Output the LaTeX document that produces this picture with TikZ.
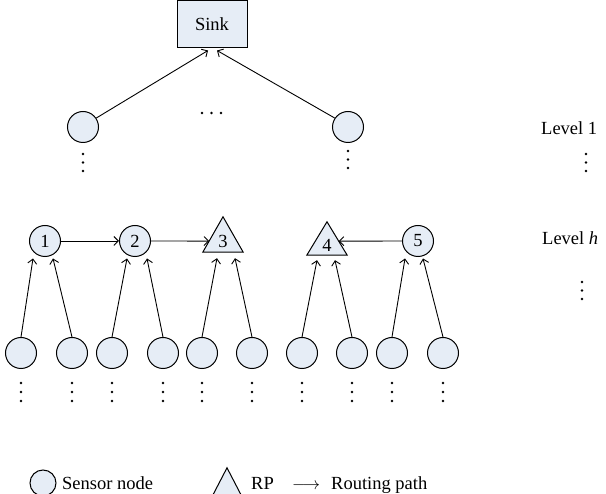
\documentclass[tikz,border=0pt]{standalone}
\usepackage{fontspec}
\setmainfont{Liberation Serif}
\usetikzlibrary{arrows.meta,calc}
\definecolor{nodefill}{RGB}{230,237,246}
\newcommand\vdotsAt[3]{\fill (#1,#2) circle (1.3pt) (#1,{#2+#3}) circle (1.3pt) (#1,{#2+2*#3}) circle (1.3pt);}
\begin{document}
\begin{tikzpicture}[x=1pt,y=-1pt,
  sensor/.style={circle,draw,fill=nodefill,line width=1pt,minimum size=31pt,inner sep=0pt,font=\fontsize{18.5}{18.5}\selectfont},
  tribox/.style={minimum width=40pt,inner sep=0pt},
  trishape/.style={draw,fill=nodefill,line width=1pt,line join=miter},
  route/.style={-{Straight Barb[length=4.5pt,width=9pt]},line width=0.9pt},
  lbl/.style={font=\fontsize{18.5}{18.5}\selectfont,inner sep=0pt}]
\useasboundingbox (0,0) rectangle (606,494);

% sink
\node[draw,fill=nodefill,line width=1pt,minimum width=70pt,minimum height=47pt,lbl] (sink) at (212,24.5) {Sink};

% level 1
\node[sensor] (a1) at (83,127) {};
\node[sensor] (a2) at (348,127) {};
\draw[route] (a1.34) -- ($(sink.south)+(-4,2)$);
\draw[route] (a2.146) -- ($(sink.south)+(5,2)$);
\fill (202,113) circle (1.3pt) (211.5,113) circle (1.3pt) (221,113) circle (1.3pt);
\vdotsAt{83}{154}{8.5}
\vdotsAt{348}{151}{8.5}
\node[lbl,anchor=base west] (lv1) at (541,135) {Level 1};
\vdotsAt{586}{154}{8.5}

% level h
\node[sensor] (n1) at (45,241) {1};
\node[sensor] (n2) at (135,241) {2};
\node[sensor] (n5) at (418,241) {5};
\node[tribox,minimum height=35pt] (t3) at (223,234.5) {};
\draw[trishape] (t3.south west) -- (t3.south east) -- (t3.north) -- cycle;
\node[lbl] (t3l) at (223,241) {3};
\node[tribox,minimum height=33pt] (t4) at (327,238.5) {};
\draw[trishape] (t4.south west) -- (t4.south east) -- (t4.north) -- cycle;
\node[lbl] (t4l) at (327,245) {4};
\node[lbl,anchor=base west] (lvh) at (542,245) {Level \textit{h}};
\vdotsAt{582}{282}{8.5}

\draw[route] (n1.east) -- (n2.west);
\draw[route] (n2.east) -- ($(t3.south west)!0.314!(t3.north)$);
\draw[route] (n5.west) -- ($(t4.south east)!0.42!(t4.north)$);

% bottom sensors
\foreach \i/\x in {1/21,2/72,3/112,4/163,5/202,6/252,7/302,8/352,9/392,10/443}{
  \node[sensor] (b\i) at (\x,353) {};
  \vdotsAt{\x}{383}{9}
}
\draw[route] (b1.north) -- ($(n1.south)+(-12,1.5)$);
\draw[route] (b2.north) -- ($(n1.south)+(8,1.5)$);
\draw[route] (b3.north) -- ($(n2.south)+(-8,1.5)$);
\draw[route] (b4.north) -- ($(n2.south)+(12,1.5)$);
\draw[route] (b5.north) -- ($(t3.south)+(-6,6)$);
\draw[route] (b6.north) -- ($(t3.south)+(12,6)$);
\draw[route] (b7.north) -- ($(t4.south)+(-10,5)$);
\draw[route] (b8.north) -- ($(t4.south)+(8,5)$);
\draw[route] (b9.north) -- ($(n5.south)+(-13,1.5)$);
\draw[route] (b10.north) -- ($(n5.south)+(5,1.5)$);

% legend
\node[sensor,minimum size=26pt] (lc) at (43,483) {};
\node[lbl,anchor=base west] (lct) at (62,490) {Sensor node};
\node[tribox,minimum width=28pt,minimum height=27pt] (lt) at (227,481.5) {};
\draw[trishape] (lt.south west) -- (lt.south east) -- (lt.north) -- cycle;
\node[lbl,anchor=base west] (ltt) at (251,490) {RP};
\node[lbl,anchor=base west] (la) at (292,490) {$\longrightarrow$};
\node[lbl,anchor=base west] (lat) at (331,490) {Routing path};
\end{tikzpicture}
\end{document}
